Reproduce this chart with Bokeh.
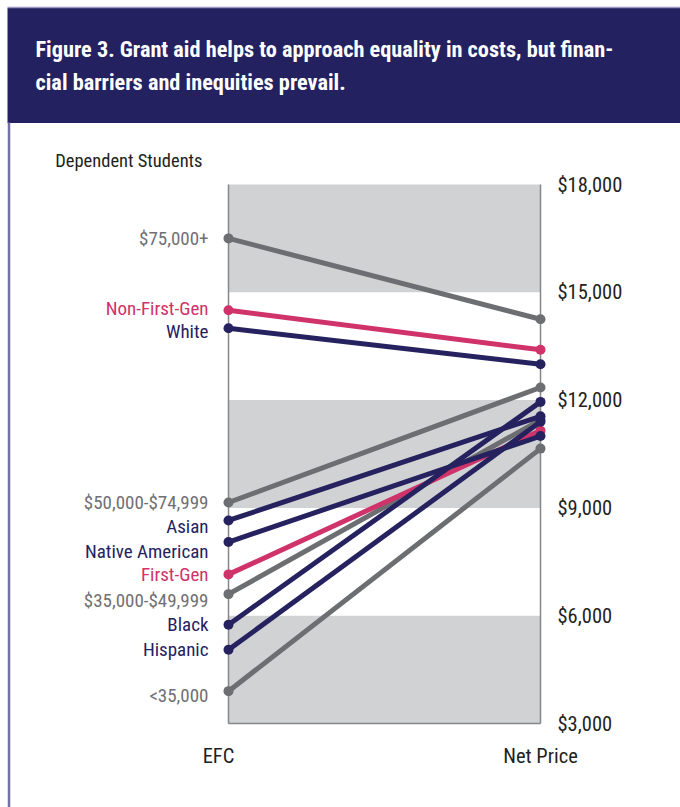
from bokeh.plotting import figure
from bokeh.models import Range1d, ColumnDataSource
from bokeh.core.properties import value
from bokeh.embed import file_html
from bokeh.resources import INLINE

# ---------------- data ----------------
groups = ["$75,000+", "Non-First-Gen", "White", "$50,000-$74,999", "Asian",
          "Native American", "First-Gen", "$35,000-$49,999", "Black",
          "Hispanic", "<35,000"]
kinds = ["income", "firstgen", "race", "income", "race", "race",
         "firstgen", "income", "race", "race", "income"]
efc = [16500, 14500, 14000, 9150, 8650, 8050, 7150, 6600, 5750, 5050, 3900]
net_price = [14250, 13400, 13000, 12350, 11550, 11000, 11150, 11450, 11950, 11400, 10650]

tick_values = [3000, 6000, 9000, 12000, 15000, 18000]
tick_labels = ["$3,000", "$6,000", "$9,000", "$12,000", "$15,000", "$18,000"]
band_bottoms = [3000, 9000, 15000]
band_tops = [6000, 12000, 18000]
column_labels = ["EFC", "Net Price"]
title_lines = ["Figure 3. Grant aid helps to approach equality in costs, but finan-",
               "cial barriers and inequities prevail."]
subtitle = "Dependent Students"

# ---------------- layout / style ----------------
W, H = 680, 807
X0_PX, X1_PX = 228, 540
Y_TOP_PX, Y_BOT_PX = 184, 723
YMIN, YMAX = 3000, 18000
ppx = (X1_PX - X0_PX) / 1.0
ppy = (Y_BOT_PX - Y_TOP_PX) / (YMAX - YMIN)


def px_x(px):
    return (px - X0_PX) / ppx


def px_y(py):
    return YMAX + (Y_TOP_PX - py) / ppy


FONT = value("Roboto Condensed")
COLORS = {"income": "#6d6e71", "race": "#25225f", "firstgen": "#cf3369"}
TEXT_COLORS = {"income": "#6f7073", "race": "#25225f", "firstgen": "#cf3369"}
label_nudge_px = [0, -2, 3, 0, 6, 9, 0, 6, 0, 0, 4]

p = figure(width=W, height=H, output_backend="svg", toolbar_location=None,
           x_range=Range1d(px_x(0), px_x(W)), y_range=Range1d(px_y(H), px_y(0)),
           min_border=0, outline_line_color=None,
           x_axis_location=None, y_axis_location=None)
p.grid.visible = False
p.background_fill_color = "white"
p.border_fill_color = "white"

# header box and page border
p.quad(left=px_x(7), right=px_x(W), top=px_y(7.5), bottom=px_y(122.5),
       fill_color="#242160", line_color=None)
p.segment(x0=px_x(7), y0=px_y(7), x1=px_x(W), y1=px_y(7),
          line_color="#9a98c0", line_width=1.5)
p.segment(x0=px_x(8.5), y0=px_y(122), x1=px_x(8.5), y1=px_y(H),
          line_color="#7472a4", line_width=2.5)
p.text(x=[px_x(35), px_x(35)], y=[px_y(48), px_y(81)], text=title_lines,
       text_font=FONT, text_font_style="bold", text_font_size="22.3px",
       text_color="white", text_baseline="middle", text_align="left")

# bands and column lines
p.quad(left=0, right=1, bottom=band_bottoms, top=band_tops,
       fill_color="#d1d2d4", line_color=None)
p.segment(x0=[0, 1, 0], y0=[YMIN, YMIN, YMIN], x1=[0, 1, 1], y1=[YMAX, YMAX, YMIN],
          line_color="#86878a", line_width=1.5)

# slope lines and end points
src = ColumnDataSource(dict(
    x0=[0] * len(groups), x1=[1] * len(groups), efc=efc, net=net_price,
    color=[COLORS[k] for k in kinds], tcolor=[TEXT_COLORS[k] for k in kinds],
    label=groups,
    ly=[v - n / ppy for v, n in zip(efc, label_nudge_px)],
))
for k in ["income", "firstgen", "race"]:
    idx = [i for i, kk in enumerate(kinds) if kk == k]
    s = ColumnDataSource({c: [src.data[c][i] for i in idx] for c in src.data})
    p.segment(x0="x0", y0="efc", x1="x1", y1="net", source=s,
              line_color="color", line_width=5)
    p.scatter(x="x0", y="efc", source=s, size=10, fill_color="color", line_color=None)
    p.scatter(x="x1", y="net", source=s, size=10, fill_color="color", line_color=None)

# group labels
p.text(x="x0", y="ly", text="label", source=src, x_offset=-20,
       text_font=FONT, text_font_size="19px", text_color="tcolor",
       text_align="right", text_baseline="middle")

# right-hand value scale
p.text(x=[1] * len(tick_values), y=tick_values, text=tick_labels, x_offset=17,
       text_font=FONT, text_font_size="20.5px", text_color="#231f20",
       text_align="left", text_baseline="middle")

# column labels
p.text(x=[0, 1], y=[px_y(755)] * 2, text=column_labels, x_offset=[-10, 0],
       text_font=FONT, text_font_size="20.5px", text_color="#231f20",
       text_align="center", text_baseline="middle")

p.text(x=[px_x(202)], y=[px_y(160)], text=[subtitle],
       text_font=FONT, text_font_size="18.5px", text_color="#231f20",
       text_align="right", text_baseline="middle")

open("out.html", "w").write(file_html(p, INLINE))
